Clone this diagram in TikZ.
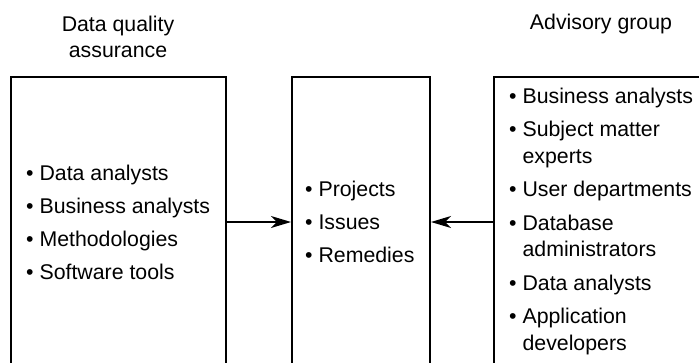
\documentclass[tikz,border=0pt]{standalone}
\usepackage{fontspec}
\setmainfont{Liberation Sans}
\usetikzlibrary{arrows.meta}
\tikzset{
  x=1pt, y=1pt,
  boxframe/.style={draw=black, line width=2pt, minimum width=#1, minimum height=360pt, anchor=north west, inner sep=0pt},
  listtext/.style={anchor=west, align=left, inner sep=0pt, font=\fontsize{21.3}{26.5}\selectfont},
  titletext/.style={align=center, inner sep=0pt, font=\fontsize{21.3}{26}\selectfont},
  link/.style={line width=1.3pt, -{Stealth[length=20pt, width=12pt, inset=6pt]}}
}
\begin{document}
\begin{tikzpicture}
\useasboundingbox (0,0) rectangle (699,-362);
\clip (0,0) rectangle (699,-362);
\fill[white] (0,0) rectangle (699,-362);
% boxes
\node[boxframe=215pt] (L) at (10,-76) {};
\node[boxframe=138pt] (M) at (291,-76) {};
\node[boxframe=300pt] (R) at (493,-76) {};
% titles
\node[titletext] (tL) at (118,-36.5) {Data quality\\assurance};
\node[titletext] (tR) at (601,-23.5) {Advisory group};
% lists
\node[listtext] (lL) at (26,-222) {%
\textbullet\ Data analysts\\[6.5pt]
\textbullet\ Business analysts\\[6.5pt]
\textbullet\ Methodologies\\[6.5pt]
\textbullet\ Software tools};
\node[listtext] (lM) at (305,-222) {%
\textbullet\ Projects\\[6.5pt]
\textbullet\ Issues\\[6.5pt]
\textbullet\ Remedies};
\node[listtext] (lR) at (509,-221) {%
\textbullet\ Business analysts\\[7pt]
\textbullet\ Subject matter\\
\hphantom{\textbullet\ }experts\\[7pt]
\textbullet\ User departments\\[7pt]
\textbullet\ Database\\
\hphantom{\textbullet\ }administrators\\[7pt]
\textbullet\ Data analysts\\[7pt]
\textbullet\ Application\\
\hphantom{\textbullet\ }developers};
% arrows
\coordinate (ay) at (0,-222);
\draw[link] (L.east |- ay) -- (M.west |- ay);
\draw[link] (R.west |- ay) -- (M.east |- ay);
\end{tikzpicture}
\end{document}
